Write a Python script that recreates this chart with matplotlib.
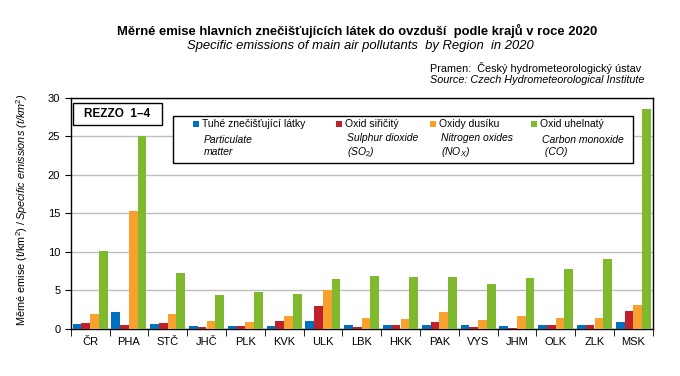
import numpy as np
import matplotlib.pyplot as plt

plt.rcParams['font.family'] = ['Liberation Sans', 'DejaVu Sans']
plt.rcParams['mathtext.fontset'] = 'custom'
plt.rcParams['mathtext.rm'] = 'Liberation Sans'
plt.rcParams['mathtext.it'] = 'Liberation Sans:italic'

# kraje
regions = ["ČR", "PHA", "STČ", "JHČ", "PLK", "KVK", "ULK", "LBK",
           "HKK", "PAK", "VYS", "JHM", "OLK", "ZLK", "MSK"]

# měrné emise t/km2
tzl = [0.65, 2.2, 0.65, 0.4, 0.4, 0.4, 1.0, 0.5, 0.5, 0.5, 0.5, 0.4, 0.5, 0.5, 0.9]
so2 = [0.75, 0.5, 0.75, 0.25, 0.4, 1.0, 3.0, 0.25, 0.5, 0.9, 0.25, 0.1, 0.5, 0.5, 2.3]
nox = [1.9, 15.3, 1.9, 1.0, 0.9, 1.7, 5.0, 1.4, 1.3, 2.2, 1.2, 1.7, 1.4, 1.4, 3.1]
co = [10.1, 25.0, 7.2, 4.4, 4.8, 4.5, 6.5, 6.85, 6.75, 6.75, 5.8, 6.6, 7.75, 9.05, 28.45]

series = [tzl, so2, nox, co]
names_cz = ["Tuhé znečišťující látky", "Oxid siřičitý", "Oxidy dusíku", "Oxid uhelnatý"]
names_en = ["Particulate\nmatter", "Sulphur dioxide\n($\\mathit{SO_2}$)",
            "Nitrogen oxides\n($\\mathit{NO_X}$)", "Carbon monoxide\n (CO)"]
colors = ["#0070C0", "#C0202A", "#F9A12E", "#7FBA2E"]

W, H = 680, 376


def fx(x):
    return x / W


def fy(y):
    return 1 - y / H


fig = plt.figure(figsize=(6.8, 3.76), dpi=100)
ax = fig.add_axes([fx(70.7), fy(329), (652.7 - 70.7) / W, (329 - 97.5) / H])

x = np.arange(len(regions))
bw = 0.225
for i, (vals, c) in enumerate(zip(series, colors)):
    ax.bar(x + (i - 1.5) * bw, vals, bw, color=c, zorder=3)

ax.set_xlim(-0.5, len(regions) - 0.5)
ax.set_ylim(0, 30)
ax.set_yticks(range(0, 31, 5))
ax.set_xticks(x)
ax.set_xticklabels(regions)
ax.set_xticks(np.arange(-0.5, len(regions), 1), minor=True)
ax.tick_params(axis='x', which='major', length=0, labelsize=8, pad=6)
ax.tick_params(axis='x', which='minor', length=5, direction='out')
ax.tick_params(axis='y', length=4, labelsize=8)
ax.grid(axis='y', color='#BFBFBF', lw=1, zorder=0)
for s in ax.spines.values():
    s.set_color('black')
    s.set_linewidth(1)

# y popisek: česky rovně, anglicky kurzívou
t1 = fig.text(fx(22), fy(326), "Měrné emise (t/km$\\mathrm{^2}$) / ", rotation=90,
              ha='center', va='bottom', fontsize=7.8)
fig.canvas.draw()
bb = t1.get_window_extent(fig.canvas.get_renderer())
fig.text(fx(22), bb.y1 / fig.dpi / 3.76, "Specific emissions (t/km$^2$)", rotation=90,
         ha='center', va='bottom', fontsize=7.8, style='italic')

# nadpisy
fig.text(fx(357), fy(31), "Měrné emise hlavních znečišťujících látek do ovzduší  podle krajů v roce 2020",
         ha='center', va='center', fontsize=9.4, fontweight='bold')
fig.text(fx(360), fy(46), "Specific emissions of main air pollutants  by Region  in 2020",
         ha='center', va='center', fontsize=9.4, style='italic')
fig.text(fx(430), fy(68), "Pramen:  Český hydrometeorologický ústav", ha='left', va='center', fontsize=7.8)
fig.text(fx(430), fy(80), "Source: Czech Hydrometeorological Institute", ha='left', va='center',
         fontsize=7.8, style='italic')

# REZZO rámeček
fig.patches.append(plt.Rectangle((fx(73), fy(125)), (162 - 73) / W, (125 - 103) / H,
                                 transform=fig.transFigure, fill=True, fc='white',
                                 ec='black', lw=1, zorder=5))
fig.text(fx(117.5), fy(114), "REZZO  1–4", ha='center', va='center', fontsize=8.5,
         fontweight='bold', zorder=6)

# legenda
fig.patches.append(plt.Rectangle((fx(172.7), fy(163)), (633 - 172.7) / W, (163 - 115.7) / H,
                                 transform=fig.transFigure, fill=True, fc='white',
                                 ec='black', lw=1, zorder=5))
leg_x = [196, 339, 433, 534]
for lx, c, cz, en in zip(leg_x, colors, names_cz, names_en):
    fig.patches.append(plt.Rectangle((fx(lx - 3), fy(127)), 6 / W, 6 / H,
                                     transform=fig.transFigure, fc=c, ec='none', zorder=6))
    fig.text(fx(lx + 6), fy(124), cz, ha='left', va='center', fontsize=7.5, zorder=6)
    fig.text(fx(lx + 8), fy(146), en, ha='left', va='center', fontsize=7.5,
             style='italic', linespacing=1.15, zorder=6)

fig.savefig("out.png", dpi=100)
